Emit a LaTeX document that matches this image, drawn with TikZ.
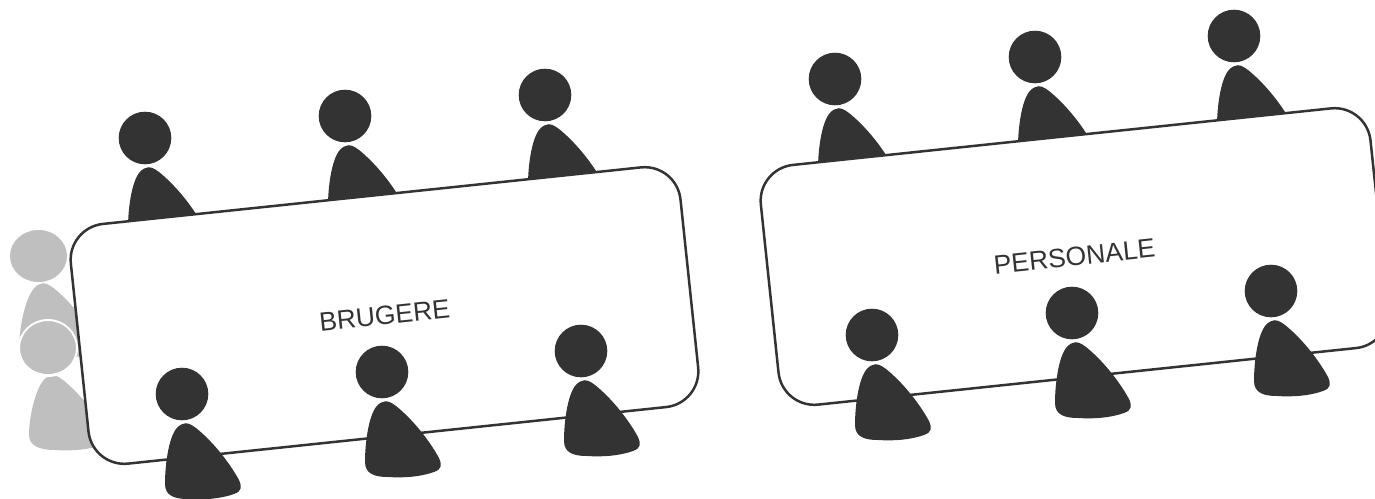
\documentclass[tikz,border=0pt]{standalone}
\usepackage{fontspec}
\setmainfont{Liberation Sans}
\definecolor{ink}{HTML}{333333}
\definecolor{ghost}{HTML}{BFBFBF}
\tikzset{
  x=1pt,y=-1pt,
  tablebox/.style={draw=ink,line width=2.5pt,fill=white,rounded corners=36pt,minimum width=613pt,minimum height=241pt,rotate=6,inner sep=0pt,text=ink,font=\fontsize{26.5}{30}\selectfont},
  pics/person/.style={code={
    \fill[#1] (0,0) circle[radius=26.3];
    \fill[#1] (1,30) .. controls (4,28) and (9,30) .. (14,34)
      .. controls (29,46) and (46,66) .. (57,86)
      .. controls (60,93) and (60,97) .. (52,100)
      .. controls (38,105) and (21,106) .. (6,105)
      .. controls (-7,105) and (-17,102) .. (-17,90)
      .. controls (-17,70) and (-13,39) .. (-3,32)
      .. controls (-2,31) and (0,30) .. (1,30) -- cycle;
  }},
  pics/ghostperson/.style={code={
    \fill[ghost] (0,0) ellipse[x radius=28.5,y radius=26];
    \fill[ghost] (2,28) .. controls (5,26) and (10,28) .. (15,32)
      .. controls (30,44) and (47,64) .. (58,84)
      .. controls (62,92) and (62,94) .. (54,97)
      .. controls (40,102) and (22,103) .. (7,102)
      .. controls (-6,102) and (-19,99) .. (-19,87)
      .. controls (-19,69) and (-12,37) .. (-2,30)
      .. controls (-1,29) and (1,28) .. (2,28) -- cycle;
  }}
}
\begin{document}
\begin{tikzpicture}
\useasboundingbox (0,0) rectangle (1375,498);
% waiting persons, behind the first table
\pic at (38.5,256) {ghostperson};
\pic at (48,348) {ghostperson};
\draw[white,line width=2pt] (48,348) ellipse[x radius=29,y radius=28];
% seated behind the tables
\foreach \px/\py in {145/138,345/116,545/95,835/79,1035/57,1234/36}
  \pic at (\px,\py) {person=ink};
% tables
\node[tablebox] (brugere) at (384.5,315.5) {BRUGERE};
\node[tablebox] (personale) at (1074.5,256.5) {PERSONALE};
% seated in front of the tables
\foreach \px/\py in {182/394,382/372,581/351,872/335,1072/313,1271/291}
  \pic at (\px,\py) {person=ink};
\end{tikzpicture}
\end{document}
